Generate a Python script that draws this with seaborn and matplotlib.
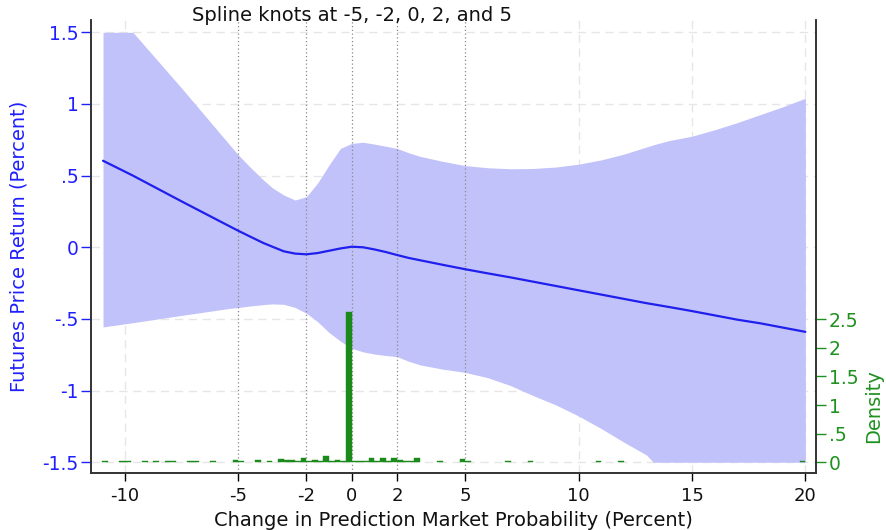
import numpy as np
import pandas as pd
import matplotlib
matplotlib.use("Agg")
import matplotlib.pyplot as plt
import matplotlib.transforms as mtransforms
import seaborn as sns

# ---- data ----
x_grid = [-10.97, -9.65, -7.5, -5.37, -5.0, -4.5, -3.9, -3.5, -3.0, -2.5, -2.0, -1.5, -1.0, -0.5,
          0.0, 0.5, 1.0, 1.5, 2.0, 2.5, 3.0, 4.0, 5.0, 6.0, 7.0, 8.0, 9.0, 10.0, 11.0, 12.0,
          13.0, 13.3, 14.0, 15.0, 16.0, 17.0, 18.0, 19.0, 20.0]
fit_mean = [0.604, 0.50, 0.32, 0.145, 0.115, 0.076, 0.03, 0.004, -0.028, -0.044, -0.049, -0.04, -0.024, -0.008,
            0.004, 0.0, -0.015, -0.033, -0.054, -0.074, -0.09, -0.122, -0.153, -0.182, -0.21, -0.24, -0.27,
            -0.30, -0.33, -0.36, -0.39, -0.398, -0.417, -0.445, -0.475, -0.505, -0.53, -0.56, -0.59]
ci_upper = [1.5, 1.5, 1.11, 0.712, 0.644, 0.562, 0.47, 0.415, 0.365, 0.33, 0.353, 0.45, 0.575, 0.69,
            0.725, 0.733, 0.72, 0.705, 0.69, 0.66, 0.635, 0.60, 0.57, 0.555, 0.548, 0.55, 0.56,
            0.58, 0.61, 0.65, 0.70, 0.715, 0.745, 0.775, 0.82, 0.87, 0.925, 0.98, 1.04]
ci_lower = [-0.556, -0.526, -0.475, -0.426, -0.42, -0.41, -0.40, -0.395, -0.398, -0.42, -0.46, -0.52, -0.595, -0.655,
            -0.705, -0.73, -0.745, -0.755, -0.763, -0.795, -0.82, -0.85, -0.873, -0.91, -0.965, -1.035, -1.10,
            -1.177, -1.265, -1.36, -1.45, -1.5, -1.5, -1.5, -1.5, -1.5, -1.5, -1.5, -1.5]

hist_left = [-11.0, -10.25, -10.0, -9.25, -8.75, -8.25, -8.0, -7.25, -7.0, -6.25, -5.25, -5.0, -4.25, -3.75,
             -3.25, -3.0, -2.75, -2.5, -2.25, -2.0, -1.75, -1.5, -1.25, -1.0, -0.75, -0.5, -0.25,
             0.0, 0.25, 0.5, 0.75, 1.0, 1.25, 1.5, 1.75, 2.0, 2.25, 2.5, 2.75, 3.75, 4.75, 5.0,
             6.75, 7.75, 10.75, 11.75, 19.75]
hist_density = [0.02, 0.03, 0.02, 0.02, 0.02, 0.02, 0.02, 0.02, 0.02, 0.02, 0.035, 0.02, 0.035, 0.02,
                0.052, 0.04, 0.04, 0.025, 0.07, 0.025, 0.04, 0.02, 0.117, 0.02, 0.04, 0.02, 2.615,
                0.03, 0.02, 0.02, 0.07, 0.02, 0.07, 0.025, 0.08, 0.04, 0.03, 0.03, 0.08, 0.03, 0.06, 0.025,
                0.03, 0.025, 0.025, 0.025, 0.025]
bin_width = 0.25

knots = [-5, -2, 0, 2, 5]
x_ticks = [-10, -5, -2, 0, 2, 5, 10, 15, 20]
y_ticks = [-1.5, -1, -0.5, 0, 0.5, 1, 1.5]
y_ticklabels = ["-1.5", "-1", "-.5", "0", ".5", "1", "1.5"]
d_ticks = [0, 0.5, 1, 1.5, 2, 2.5]
d_ticklabels = ["0", ".5", "1", "1.5", "2", "2.5"]

BLUE = "#1f1fee"
BAND = "#c2c2fa"
GREEN = "#1a8a1a"
TEXT_BLUE = "#2020ff"
TEXT_GREEN = "#1f911f"

sns.set_style("white")
plt.rcParams["font.family"] = ["DejaVu Sans"]

L, R, T, B = 91, 816, 20, 473.3
fig = plt.figure(figsize=(8.86, 5.30), dpi=100)
ax = fig.add_axes([L / 886, (530 - B) / 530, (R - L) / 886, (B - T) / 530])

# grid
for yv in y_ticks:
    ax.axhline(yv, color="#e6e6e6", lw=1.0, ls=(0, (6, 4)), zorder=0)
for xv in [-10, 10, 15, 20]:
    ax.axvline(xv, color="#e6e6e6", lw=1.0, ls=(0, (6, 4)), zorder=0)

df = pd.DataFrame({"x": x_grid, "mean": fit_mean, "lo": ci_lower, "hi": ci_upper})
ax.fill_between(df["x"], df["lo"], df["hi"], color=BAND, lw=0, zorder=1)
sns.lineplot(data=df, x="x", y="mean", ax=ax, color=BLUE, lw=1.6, zorder=3)

for k in knots:
    ax.axvline(k, color="#8a8a8a", lw=0.9, ls=(0, (1, 2)), zorder=2)

ax.set_xlim(-11.5, 20.47)
ax.set_ylim(-1.577, 1.586)
ax.set_xticks(x_ticks)
ax.set_xticklabels([str(t) for t in x_ticks], fontsize=13)
ax.set_yticks(y_ticks)
ax.set_yticklabels(y_ticklabels, fontsize=13.5, color=TEXT_BLUE)
ax.tick_params(axis="y", colors=TEXT_BLUE, length=7, width=1, direction="out", left=True, pad=2)
ax.tick_params(axis="x", colors="black", length=6, width=1, direction="out", bottom=True, pad=4)
for lab in ax.get_xticklabels():
    lab.set_color("#111111")
ax.set_xlabel("Change in Prediction Market Probability (Percent)", fontsize=14,
              color="#111111", labelpad=4)
ax.set_ylabel("Futures Price Return (Percent)", fontsize=14, color=TEXT_BLUE)
ax.yaxis.set_label_coords((29 - L) / (R - L), 0.5)
ax.spines["top"].set_visible(False)
for s in ["left", "bottom", "right"]:
    ax.spines[s].set_color("#333333")
    ax.spines[s].set_linewidth(1.2)

# density histogram on twin axis
ax2 = ax.twinx()
ax2.bar(hist_left, hist_density, width=bin_width, align="edge", color=GREEN,
        edgecolor=GREEN, linewidth=0.3, zorder=4)
ax2.set_ylim(-0.192, 7.72)
ax2.set_yticks(d_ticks)
ax2.set_yticklabels(d_ticklabels, fontsize=13.5, color=TEXT_GREEN)
ax2.tick_params(axis="y", colors=TEXT_GREEN, length=7, width=1, direction="out", right=True, pad=2)
ax2.set_ylabel("Density", fontsize=14, color=TEXT_GREEN)
ax2.yaxis.set_label_coords((864 - L) / (R - L), (B - 406) / (B - T))
ax2.spines["top"].set_visible(False)
for s in ["left", "bottom", "right"]:
    ax2.spines[s].set_color("#333333")
    ax2.spines[s].set_linewidth(1.2)
ax2.grid(False)

trans = mtransforms.blended_transform_factory(ax.transData, ax.transAxes)
ax.text(0, 1.009, "Spline knots at -5, -2, 0, 2, and 5", transform=trans, ha="center",
        va="center", fontsize=14, color="#111111")

fig.savefig("out.png", dpi=100)
